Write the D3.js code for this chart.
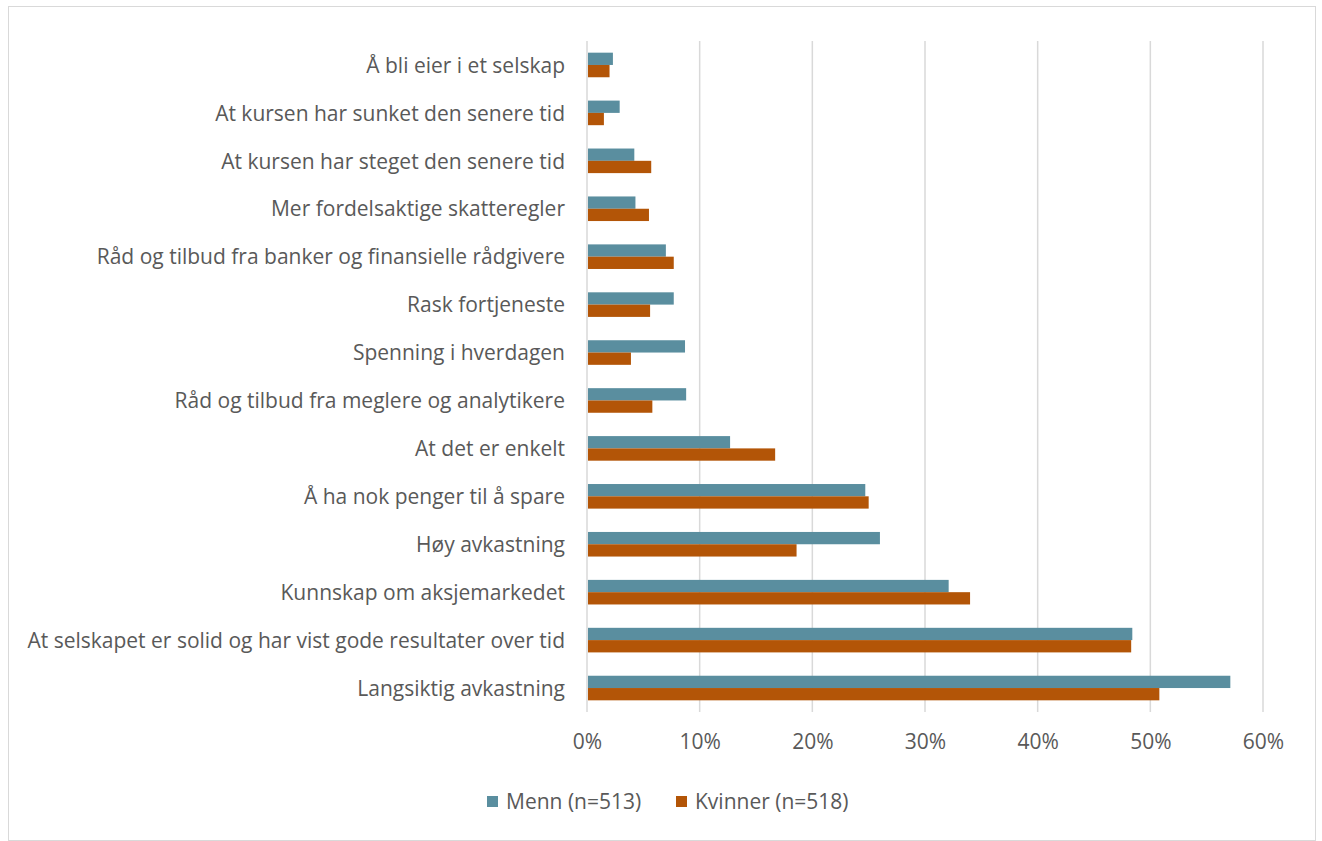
<!DOCTYPE html>
<html>
<head>
<meta charset="utf-8">
<script src="https://cdn.jsdelivr.net/npm/d3@7"></script>
<style>
  html, body { margin: 0; padding: 0; background: #fff; }
  svg { display: block; font-family: "Open Sans", "Lato", sans-serif; }
</style>
</head>
<body>
<svg id="chart" width="1322" height="841"></svg>
<script>
// Categories, top to bottom
const categories = [
  "Å bli eier i et selskap",
  "At kursen har sunket den senere tid",
  "At kursen har steget den senere tid",
  "Mer fordelsaktige skatteregler",
  "Råd og tilbud fra banker og finansielle rådgivere",
  "Rask fortjeneste",
  "Spenning i hverdagen",
  "Råd og tilbud fra meglere og analytikere",
  "At det er enkelt",
  "Å ha nok penger til å spare",
  "Høy avkastning",
  "Kunnskap om aksjemarkedet",
  "At selskapet er solid og har vist gode resultater over tid",
  "Langsiktig avkastning"
];

// Share of respondents (%)
const menn    = [2.3, 2.9, 4.2, 4.3, 7.0, 7.7, 8.7, 8.8, 12.7, 24.7, 26.0, 32.1, 48.4, 57.1];
const kvinner = [2.0, 1.5, 5.7, 5.5, 7.7, 5.6, 3.9, 5.8, 16.7, 25.0, 18.6, 34.0, 48.3, 50.8];

const seriesNames = ["Menn (n=513)", "Kvinner (n=518)"];
const seriesColors = ["#5A8E9F", "#B35507"];
const xTicks = [0, 10, 20, 30, 40, 50, 60];

const FONT = "'Open Sans', Lato, sans-serif";
const FONT_SIZE = 21;
const TEXT_COLOR = "#595959";

const svg = d3.select("#chart");

// Outer frame
svg.append("rect")
  .attr("x", 8.5).attr("y", 6.5)
  .attr("width", 1307).attr("height", 834)
  .attr("fill", "#fff").attr("stroke", "#D9D9D9").attr("stroke-width", 1);

const plot = { left: 587, right: 1263, top: 41, bottom: 712 };

const x = d3.scaleLinear().domain([0, 60]).range([plot.left, plot.right]);
const y = d3.scaleBand().domain(categories)
  .range([plot.top, plot.bottom])
  .paddingInner(0.487).paddingOuter(0.2435);
const ySub = d3.scaleBand().domain([0, 1]).range([0, y.bandwidth()]);

// Vertical gridlines
svg.append("g").selectAll("line").data(xTicks).join("line")
  .attr("x1", d => x(d)).attr("x2", d => x(d))
  .attr("y1", plot.top).attr("y2", plot.bottom)
  .attr("stroke", "#D9D9D9").attr("stroke-width", 1.5);

// Bars
const rows = categories.map((c, i) => ({ cat: c, vals: [menn[i], kvinner[i]] }));
const groups = svg.append("g").selectAll("g").data(rows).join("g")
  .attr("transform", d => `translate(0,${y(d.cat)})`);
groups.selectAll("rect").data(d => d.vals.map((v, k) => ({ v, k }))).join("rect")
  .attr("x", x(0) + 1)
  .attr("y", d => ySub(d.k))
  .attr("width", d => x(d.v) - x(0) - 1)
  .attr("height", ySub.bandwidth())
  .attr("fill", d => seriesColors[d.k]);

// Category labels
const yAxis = d3.axisLeft(y).tickSize(0).tickPadding(22);
const gy = svg.append("g").attr("transform", `translate(${plot.left},1)`).call(yAxis);
gy.select(".domain").remove();
gy.selectAll("text")
  .attr("fill", TEXT_COLOR).attr("font-size", FONT_SIZE)
  .style("font-family", FONT);

// Value axis labels
const xAxis = d3.axisBottom(x).tickValues(xTicks).tickFormat(d => d + "%").tickSize(0).tickPadding(22);
const gx = svg.append("g").attr("transform", `translate(0,${plot.bottom})`).call(xAxis);
gx.select(".domain").remove();
gx.selectAll("text")
  .attr("fill", TEXT_COLOR).attr("font-size", FONT_SIZE)
  .style("font-family", FONT);

// Legend
const legendItems = [
  { name: seriesNames[0], color: seriesColors[0], x: 487 },
  { name: seriesNames[1], color: seriesColors[1], x: 676 }
];
const lg = svg.append("g").selectAll("g").data(legendItems).join("g")
  .attr("transform", d => `translate(${d.x},796)`);
lg.append("rect").attr("width", 11).attr("height", 11).attr("fill", d => d.color);
lg.append("text").attr("x", 19).attr("y", 6).attr("dy", "0.35em")
  .attr("fill", TEXT_COLOR).attr("font-size", FONT_SIZE).style("font-family", FONT)
  .text(d => d.name);
</script>
</body>
</html>
